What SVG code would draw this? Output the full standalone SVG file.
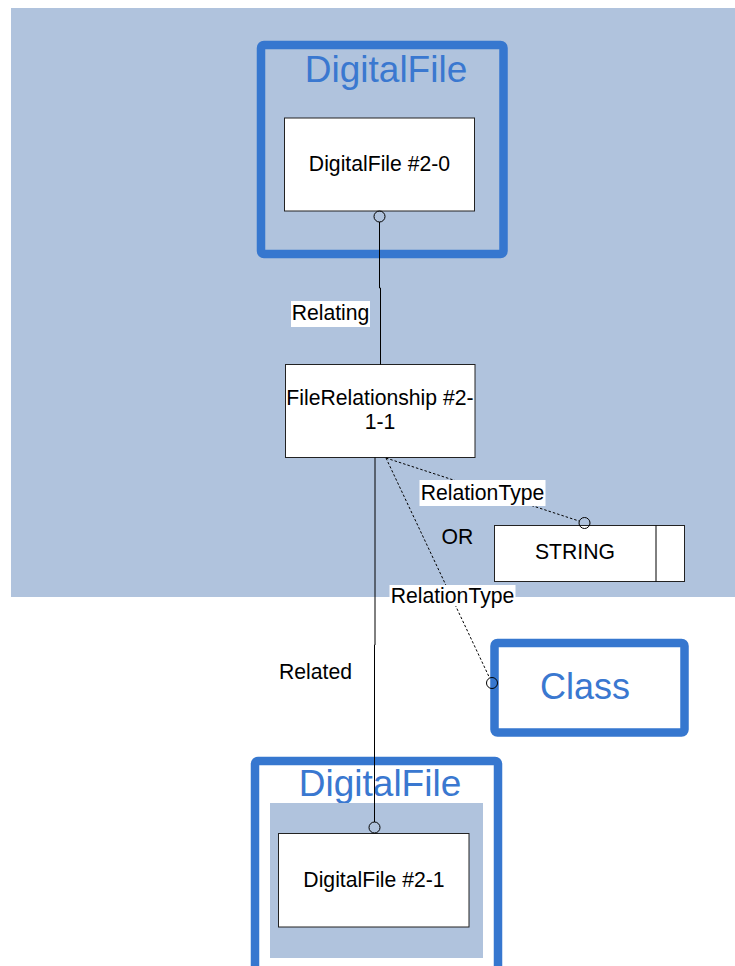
<svg xmlns="http://www.w3.org/2000/svg" width="735" height="966" viewBox="0 0 735 966">
<style>
.frame{fill:none;stroke:#3677cf;stroke-width:8.5}
.title{font-family:"Liberation Sans",Arial,sans-serif;font-size:37px;fill:#3a78d0;text-anchor:middle}
.box{fill:#fff;stroke:#222;stroke-width:1}
.t{font-family:"Liberation Sans",Arial,sans-serif;font-size:21.2px;fill:#000;text-anchor:middle}
.lbl{fill:#fff}
.solid{fill:none;stroke:#000;stroke-width:1}
.dash{fill:none;stroke:#000;stroke-width:1;stroke-dasharray:2.5,2}
.end{fill:none;stroke:#000;stroke-width:1}
</style>
<rect x="11" y="8" width="724" height="589" fill="#b0c3dd"/>
<g id="frame-top">
<rect class="frame" x="261" y="45" width="242.5" height="209" rx="3"/>
<text class="title" x="386" y="82">DigitalFile</text>
</g>
<g id="df20">
<rect class="box" x="284.5" y="118" width="190" height="93"/>
<text class="t" x="379.5" y="171">DigitalFile #2-0</text>
</g>
<g id="filerel">
<rect class="box" x="285.5" y="364.5" width="189.5" height="93"/>
<text class="t" x="380" y="405">FileRelationship #2-</text>
<text class="t" x="380" y="429">1-1</text>
</g>
<g id="string">
<rect class="box" x="494.5" y="525.5" width="190" height="56"/>
<line class="solid" x1="656" y1="525.5" x2="656" y2="581.5"/>
<text class="t" x="575" y="559">STRING</text>
</g>
<g id="class">
<rect class="frame" x="494.5" y="643" width="190" height="89.5" rx="3"/>
<text class="title" x="585" y="699" style="font-size:36px">Class</text>
</g>
<g id="frame-bottom">
<rect class="frame" x="255" y="761" width="243" height="260" rx="3"/>
<text class="title" x="380" y="796">DigitalFile</text>
<rect x="270" y="803" width="213" height="155" fill="#b0c3dd"/>
</g>
<g id="df21">
<rect class="box" x="278.5" y="833.5" width="190.5" height="93.5"/>
<text class="t" x="374" y="887">DigitalFile #2-1</text>
</g>
<g id="connectors">
<path class="solid" d="M379.5,222 V288 H380.5 V364.5"/>
<circle class="end" cx="379.5" cy="216.5" r="5.5"/>
<rect class="lbl" x="291" y="301" width="79" height="26"/>
<text class="t" x="330.5" y="320">Relating</text>
<path class="solid" d="M375,457.5 V645 H374.5 V822"/>
<circle class="end" cx="374.5" cy="827.5" r="5.5"/>
<text class="t" x="315.5" y="679">Related</text>
<line class="dash" x1="386" y1="458" x2="579" y2="521"/>
<circle class="end" cx="584.5" cy="523" r="5.5"/>
<line class="dash" x1="386" y1="458" x2="489.6" y2="678"/>
<circle class="end" cx="492" cy="683" r="5.5"/>
<rect class="lbl" x="419.5" y="480" width="126" height="26"/>
<text class="t" x="482.5" y="500">RelationType</text>
<rect class="lbl" x="389.5" y="585" width="126" height="21"/>
<text class="t" x="452.5" y="603">RelationType</text>
<text class="t" x="457.5" y="543.5">OR</text>
</g>
</svg>
